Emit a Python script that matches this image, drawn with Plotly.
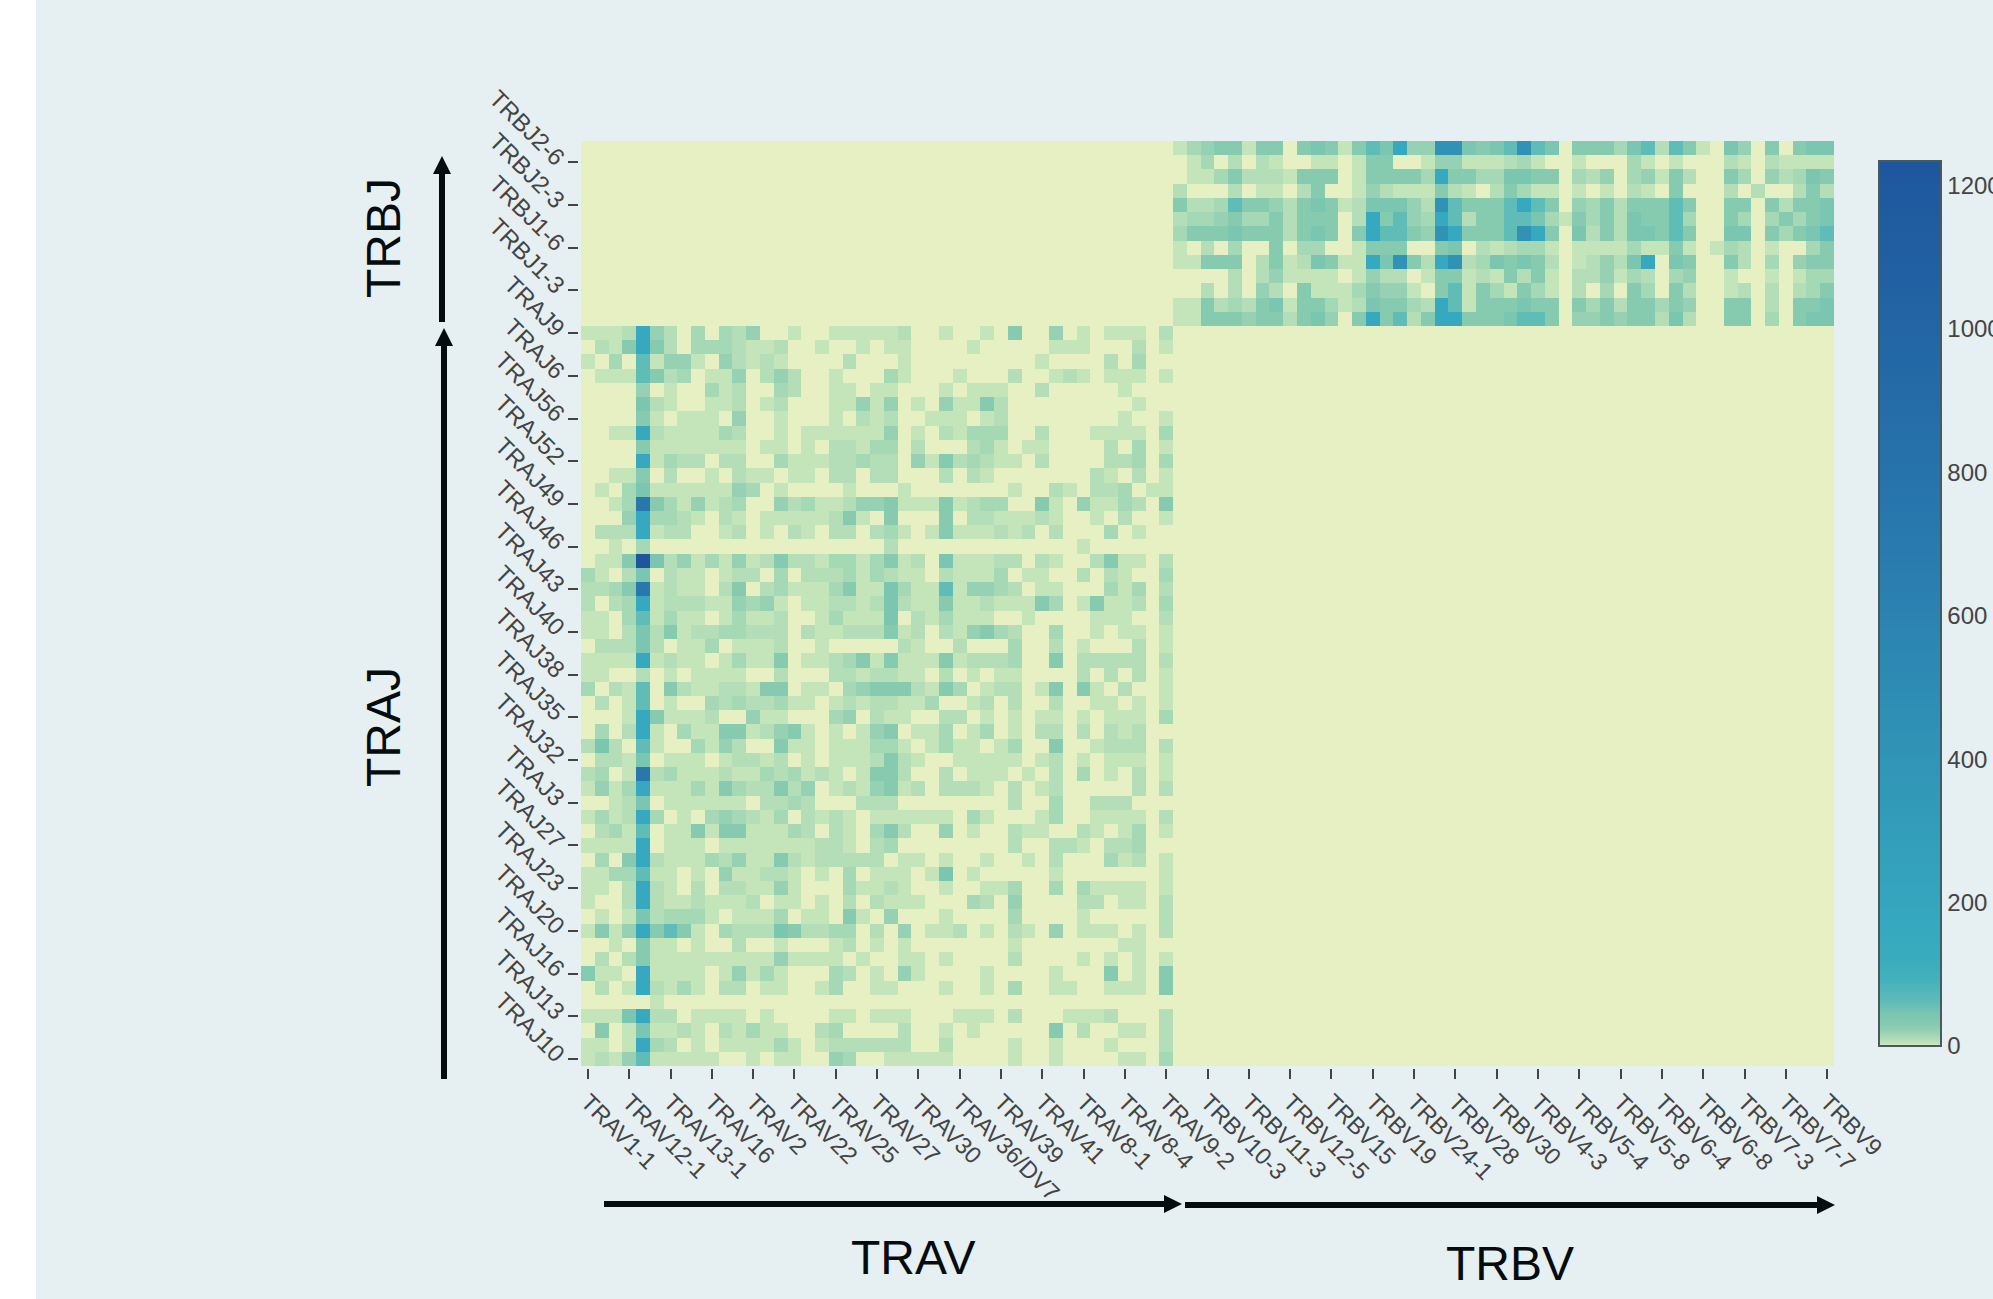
import plotly.graph_objects as go

TRAV = ["TRAV1-1","TRAV1-2","TRAV10","TRAV12-1","TRAV12-2","TRAV12-3","TRAV13-1","TRAV13-2","TRAV14/DV4","TRAV16","TRAV17","TRAV19","TRAV2","TRAV20","TRAV21","TRAV22","TRAV23/DV6","TRAV24","TRAV25","TRAV26-1","TRAV26-2","TRAV27","TRAV29/DV5","TRAV3","TRAV30","TRAV34","TRAV35","TRAV36/DV7","TRAV38-1","TRAV38-2/DV8","TRAV39","TRAV4","TRAV40","TRAV41","TRAV5","TRAV6","TRAV8-1","TRAV8-2","TRAV8-3","TRAV8-4","TRAV8-6","TRAV9-1","TRAV9-2"]
TRBV = ["TRBV10-1","TRBV10-2","TRBV10-3","TRBV11-1","TRBV11-2","TRBV11-3","TRBV12-3","TRBV12-4","TRBV12-5","TRBV13","TRBV14","TRBV15","TRBV16","TRBV18","TRBV19","TRBV2","TRBV20-1","TRBV24-1","TRBV25-1","TRBV27","TRBV28","TRBV29-1","TRBV3-1","TRBV30","TRBV4-1","TRBV4-2","TRBV4-3","TRBV5-1","TRBV5-3","TRBV5-4","TRBV5-5","TRBV5-6","TRBV5-8","TRBV6-1","TRBV6-2","TRBV6-4","TRBV6-5","TRBV6-6","TRBV6-8","TRBV6-9","TRBV7-2","TRBV7-3","TRBV7-4","TRBV7-6","TRBV7-7","TRBV7-8","TRBV7-9","TRBV9"]
TRAJ = ["TRAJ10","TRAJ11","TRAJ12","TRAJ13","TRAJ14","TRAJ15","TRAJ16","TRAJ17","TRAJ18","TRAJ20","TRAJ21","TRAJ22","TRAJ23","TRAJ24","TRAJ26","TRAJ27","TRAJ28","TRAJ29","TRAJ3","TRAJ30","TRAJ31","TRAJ32","TRAJ33","TRAJ34","TRAJ35","TRAJ36","TRAJ37","TRAJ38","TRAJ39","TRAJ4","TRAJ40","TRAJ41","TRAJ42","TRAJ43","TRAJ44","TRAJ45","TRAJ46","TRAJ47","TRAJ48","TRAJ49","TRAJ5","TRAJ50","TRAJ52","TRAJ53","TRAJ54","TRAJ56","TRAJ57","TRAJ58","TRAJ6","TRAJ7","TRAJ8","TRAJ9"]
TRBJ = ["TRBJ1-1","TRBJ1-2","TRBJ1-3","TRBJ1-4","TRBJ1-5","TRBJ1-6","TRBJ2-1","TRBJ2-2","TRBJ2-3","TRBJ2-4","TRBJ2-5","TRBJ2-6","TRBJ2-7"]

# Counts, one character per cell, as a step on the scale in LEVELS.
LEVELS = {"0":0,"1":3,"2":8,"3":14,"4":21,"5":29,"6":45,"7":62,"8":170,"9":420,"a":720,"b":1234}

# TRAJ rows, top (TRAJ9) to bottom (TRAJ10); columns are TRAV
TRAJ_ROWS = [
"1112842030 3240010011 1112001001 0500401011102",
"0215852033 3211200100 1011000010 0000111000201",
"1030714410 4212100002 0001000000 0001000020300",
"0111752301 1402420010 0031000100 0200121011101",
"0000401003 1200320011 0110001011 1002000001000",
"0000621001 1201200011 4140104115 2000000000100",
"0000510111 0400100010 2120011101 2000000001001",
"0011821111 3200101111 1140102133 3002000111103",
"0000511111 1101101022 1330200023 1011000020301",
"0000813220 2200311122 3220415232 1102000022303",
"0011502001 0211011022 0220002021 0000000210201",
"0103611111 1430100001 0001000000 0100210223011",
"0013a53141 2300423112 4451115123 3005104113205",
"0004833210 2101111125 1050005022 1112100102001",
"0222812200 1201021022 0231015111 2120200030100",
"0010300000 0000000000 0020000000 0000001000000",
"0115b62413 1412522133 1351206111 2202100251102",
"3102602110 1220302223 1321102111 3011002021003",
"2235a12110 2502311135 1163117144 3201100031302",
"2023812221 1434101122 1262115112 1115301511203",
"1103713110 1311200131 1160213111 0010000111002",
"1102625122 3322202112 2251202145 3200300101101",
"0222620113 0111200100 0002100200 0300201000201",
"1111812110 1311501123 5151115122 2300502222202",
"1100201011 1100200022 1221102010 1100002020201",
"3021705211 2215501103 4555215301 2201505102001",
"0201701003 2322311012 1221130012 0200200110101",
"0001851112 0041100034 0211002201 0101101011103",
"0302810311 5512451010 1450113013 0102202021200",
"2620710031 4200511011 1331013110 1300500122202",
"0221601110 1221201011 1252100111 1101201011101",
"2301a23111 2113231210 1552002011 1010203010201",
"1413811131 5322524012 1451202221 0201200000202",
"0012601111 1102232000 2220000000 0200300222000",
"1312830103 4321302121 0111111031 0001300111102",
"0231701151 5511132021 0352004010 0211002101301",
"1111801110 1111111221 0230000000 0200221022300",
"0305821113 2411521222 2201101001 0010200031201",
"1133711010 4112210103 0111016010 0000100000001",
"1102821020 2211410003 1121001001 1300303111101",
"1002821121 1120110102 0211100032 0400002201102",
"0101623331 0111301105 1040001000 0300001000002",
"1514857510 3222652233 0204011201 0210401110102",
"0010511010 0200100012 0101000000 0100000001100",
"0202511111 1111411110 1001101000 0200001010101",
"5110811110 1413100032 0104100001 0000100050105",
"0201821310 2201100130 0110001001 0300110011105",
"0000010000 0000000000 0000000000 0000000000000",
"1116822011 1101000011 0111000111 0200011120002",
"0501611210 2131100230 0002001010 0000502001102",
"1101832010 1111310122 2222002000 0100100010002",
"1214711111 0010110043 0011111000 0100100001103",
]

# TRBJ rows, top (TRBJ2-7) to bottom (TRBJ1-1); columns are TRBV
TRBJ_ROWS = [
"1345515505 6515768449 9656797605 5536727510 64050566",
"0130202100 1101550014 4111231001 0003101000 21021111",
"0113522215 5501555538 5533665503 2403415200 53042365",
"2000201102 5001421115 2102531101 0102105000 20200252",
"5223755425 6512666429 7555787504 3525557500 55052556",
"2334533525 5502857438 7255776315 3526557300 53035356",
"3555655525 6505877549 8555798506 2526657500 66053567",
"1020300503 3001555005 6021233101 1113115101 32010035",
"1155502512 6511869528 9236565201 2426806500 52030455",
"0000202411 1101422015 5121525102 2413203400 10010133",
"0020204205 1113544105 7153153102 0305305200 12020235",
"1152325615 5312655328 7155565505 3525535400 55020556",
"1155545525 6405857258 8555677504 4545526200 55030566",
]

COLOR_STOPS = [(0,"#e7f0c3"),(3,"#c4e4ba"),(8,"#b4deb7"),(14,"#a5d8b5"),(21,"#95d1b2"),(29,"#86cbb0"),
               (45,"#7ac6b1"),(62,"#5fbcb7"),(90,"#46b1bb"),(120,"#3aacbd"),(170,"#36a8bf"),(420,"#3093b6"),(720,"#2878ae"),(1234,"#1e569d")]
ZMAX = 1234

BG = "#e6eff1"; INK = "#050c0e"; TICK = "#444444"
W, H = 2060, 1299   # wider than the 1993 window so the clipped "1200" needs no extra margin
PL, PR, PT, PB = 579.0, 1834.0, 141.0, 1068.0   # plot frame in page pixels
CW, CH = 13.77, 14.23


def parse(row, n):
    s = row.replace(" ", "").ljust(n, "0")[:n]
    return [LEVELS[c] for c in s]


x_cats = TRAV + TRBV
y_cats = TRAJ + TRBJ
z = []
for row in reversed(TRAJ_ROWS):
    z.append(parse(row, len(TRAV)) + [0] * len(TRBV))
for row in reversed(TRBJ_ROWS):
    z.append([0] * len(TRAV) + parse(row, len(TRBV)))


def X(p):
    return (p - PL) / (PR - PL)


def Y(p):
    return (PB - p) / (PB - PT)


fig = go.Figure(go.Heatmap(
    x=x_cats, y=y_cats, z=z, zmin=0, zmax=ZMAX, xgap=0, ygap=0,
    colorscale=[[v / ZMAX, c] for v, c in COLOR_STOPS],
    colorbar=dict(
        thickness=62, thicknessmode="pixels", len=885, lenmode="pixels",
        x=X(1879), xanchor="left", y=Y(161), yanchor="top", xpad=0, ypad=0,
        outlinewidth=2, outlinecolor="#465a60", ticks="", tickvals=[0, 200, 400, 600, 800, 1000, 1200],
        tickfont=dict(family="Liberation Sans", size=24, color=TICK), ticklabelposition="outside",
    ),
))

shapes = [
    dict(type="rect", xref="paper", yref="paper", x0=X(-2), x1=X(36), y0=Y(-2), y1=Y(H + 2),
         fillcolor="white", line_width=0, layer="below"),
]


def arrow(x0, y0, x1, y1):
    """Straight arrow between two page points, with a triangular head at the second."""
    horiz = y0 == y1
    sgn = 1 if (x1 > x0 or y1 > y0) else -1
    head, half = 18, 9
    if horiz:
        shapes.append(dict(type="line", xref="paper", yref="paper", x0=X(x0), x1=X(x1 - sgn * head), y0=Y(y0), y1=Y(y0),
                           line=dict(color=INK, width=6)))
        path = f"M {X(x1)} {Y(y1)} L {X(x1 - sgn * head)} {Y(y1 - half)} L {X(x1 - sgn * head)} {Y(y1 + half)} Z"
    else:
        shapes.append(dict(type="line", xref="paper", yref="paper", x0=X(x0), x1=X(x0), y0=Y(y0), y1=Y(y1 - sgn * head),
                           line=dict(color=INK, width=6)))
        path = f"M {X(x1)} {Y(y1)} L {X(x1 - half)} {Y(y1 - sgn * head)} L {X(x1 + half)} {Y(y1 - sgn * head)} Z"
    shapes.append(dict(type="path", xref="paper", yref="paper", path=path, fillcolor=INK, line_width=0))


arrow(604, 1204, 1182, 1204)
arrow(1185, 1205, 1835, 1205)
arrow(442, 322, 442, 156)
arrow(444, 1079, 444, 328)

labels = [("TRAV", 913, 1257, 0), ("TRBV", 1510, 1263, 0), ("TRBJ", 383, 238, -90), ("TRAJ", 383, 727, -90)]
annotations = [
    dict(text=t, x=X(px), y=Y(py), xref="paper", yref="paper", showarrow=False, textangle=a,
         xanchor="center", yanchor="middle", font=dict(family="Liberation Sans", size=48, color=INK))
    for t, px, py, a in labels
]

xtickfont = dict(family="Liberation Sans", size=23.5, color=TICK)
ytickfont = dict(family="Liberation Sans", size=24, color=TICK)
fig.update_layout(
    width=W, height=H, autosize=False,
    margin=dict(l=PL, r=W - PR, t=PT, b=H - PB, pad=0),
    paper_bgcolor=BG, plot_bgcolor=BG,
    shapes=shapes, annotations=annotations,
    xaxis=dict(type="category", categoryorder="array", categoryarray=x_cats,
               range=[-0.5 - 2 / CW, 90.5], tickmode="array", tickvals=x_cats[::3], ticktext=x_cats[::3],
               tickangle=45, ticks="outside", ticklen=10, tickwidth=1.5, tickcolor=TICK, tickfont=xtickfont,
               showgrid=False, zeroline=False, showline=False),
    yaxis=dict(type="category", categoryorder="array", categoryarray=y_cats,
               range=[-0.5 - 2 / CH, 64.5], tickmode="array", tickvals=y_cats[::3], ticktext=y_cats[::3],
               tickangle=45, ticks="outside", ticklen=10, tickwidth=1.5, tickcolor=TICK, tickfont=ytickfont,
               showgrid=False, zeroline=False, showline=False),
)

fig.write_html("out.html", config={"displayModeBar": False},
               post_script="document.body.style.margin='0';document.documentElement.style.overflow='hidden';document.body.style.overflow='hidden';")
